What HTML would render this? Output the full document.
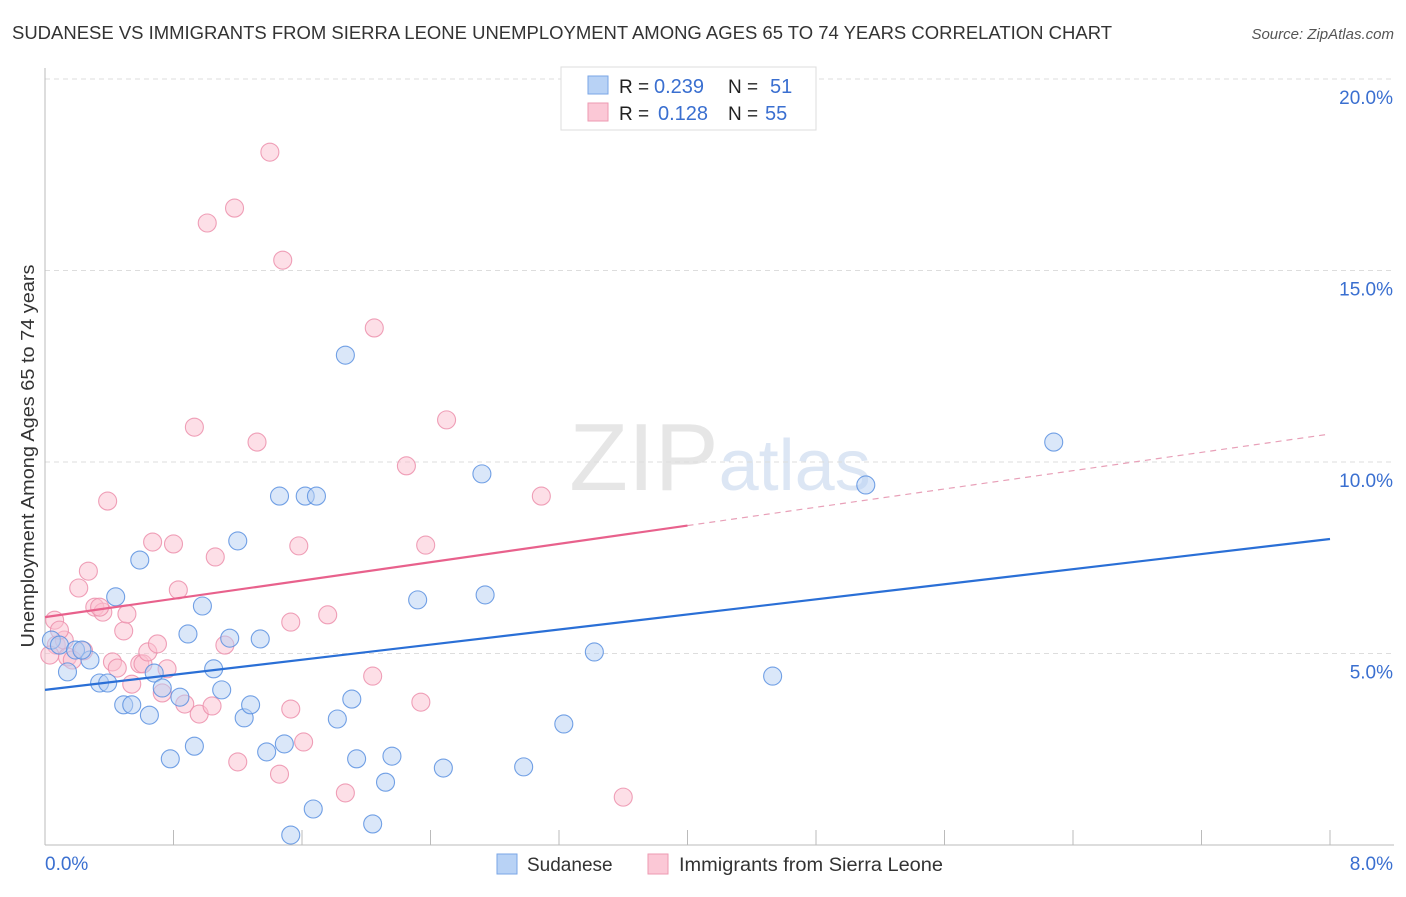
<!DOCTYPE html>
<html><head><meta charset="utf-8"><style>
body{margin:0;background:#fff;font-family:"Liberation Sans",sans-serif;}
svg text{font-family:"Liberation Sans",sans-serif;}
</style></head><body>
<svg id="chart" width="1406" height="892" xmlns="http://www.w3.org/2000/svg">
<text x="12" y="39" font-size="18" fill="#333" textLength="1100" lengthAdjust="spacingAndGlyphs">SUDANESE VS IMMIGRANTS FROM SIERRA LEONE UNEMPLOYMENT AMONG AGES 65 TO 74 YEARS CORRELATION CHART</text>
<text x="1394" y="39" font-size="15" fill="#555" font-style="italic" text-anchor="end">Source: ZipAtlas.com</text>
<text x="720" y="490" font-size="96" text-anchor="middle" fill="#e6e6e6" font-family="Liberation Serif">ZIP<tspan fill="#dce6f4" font-family="Liberation Sans" font-size="72">atlas</tspan></text>
<g id="grid"></g>
<g id="axes"></g>
<g id="marks"></g>
<text transform="translate(34,456) rotate(-90)" font-size="18" fill="#333" text-anchor="middle" textLength="383" lengthAdjust="spacingAndGlyphs">Unemployment Among Ages 65 to 74 years</text>
<g>
<rect x="561" y="67" width="255" height="63" fill="#fff" stroke="#ddd"/>
<rect x="588" y="76" width="20" height="18" fill="#b8d2f5" stroke="#7aa6e6"/>
<rect x="588" y="103" width="20" height="18" fill="#fbc8d6" stroke="#ee9ab2"/>
<text x="619" y="93" font-size="19" fill="#222">R =</text>
<text x="654" y="93" font-size="20" fill="#3a6fd0">0.239</text>
<text x="728" y="93" font-size="19" fill="#222">N =</text>
<text x="770" y="93" font-size="20" fill="#3a6fd0">51</text>
<text x="619" y="120" font-size="19" fill="#222">R =</text>
<text x="658" y="120" font-size="20" fill="#3a6fd0">0.128</text>
<text x="728" y="120" font-size="19" fill="#222">N =</text>
<text x="765" y="120" font-size="20" fill="#3a6fd0">55</text>
</g>
<g>
<rect x="497" y="854" width="20" height="20" fill="#b8d2f5" stroke="#7aa6e6"/>
<text x="527" y="871" font-size="19" fill="#333">Sudanese</text>
<rect x="648" y="854" width="20" height="20" fill="#fbc8d6" stroke="#ee9ab2"/>
<text x="679" y="871" font-size="19" fill="#333" textLength="264" lengthAdjust="spacingAndGlyphs">Immigrants from Sierra Leone</text>
</g>
</svg>
<script>
const xTicks=[0,8];
const yTicks=[5,10,15,20];
const blueX=[0.04,0.09,0.14,0.19,0.28,0.23,0.34,0.39,0.44,0.49,0.54,0.59,0.65,0.68,0.73,0.78,0.84,0.89,0.93,0.98,1.05,1.10,1.15,1.20,1.24,1.28,1.34,1.38,1.46,1.49,1.53,1.62,1.67,1.69,1.82,1.87,1.91,1.94,2.04,2.12,2.16,2.32,2.48,2.72,2.74,2.98,3.23,3.42,4.53,5.11,6.28];
const blueY=[5.35,5.22,4.52,5.09,4.83,5.09,4.23,4.23,6.48,3.66,3.66,7.44,3.39,4.49,4.10,2.25,3.86,5.51,2.58,6.24,4.60,4.05,5.40,7.94,3.32,3.66,5.38,2.43,9.11,2.64,0.26,9.11,0.94,9.11,3.29,12.79,3.81,2.25,0.55,1.64,2.32,6.40,2.01,9.69,6.53,2.04,3.16,5.04,4.41,9.40,10.52];
const pinkX=[0.06,0.07,0.12,0.14,0.21,0.24,0.27,0.31,0.36,0.39,0.42,0.45,0.49,0.51,0.54,0.59,0.61,0.64,0.67,0.70,0.73,0.76,0.80,0.83,0.87,0.93,0.96,1.01,1.04,1.06,1.12,1.18,1.20,1.32,1.40,1.46,1.48,1.53,1.53,1.58,1.61,1.76,1.87,2.04,2.05,2.25,2.34,2.37,2.50,3.09,3.60,0.03,0.09,0.17,0.34];
const pinkY=[5.87,5.22,5.35,4.91,6.71,5.07,7.15,6.21,6.08,8.98,4.78,4.62,5.59,6.03,4.20,4.73,4.73,5.04,7.91,5.25,3.97,4.60,7.86,6.66,3.68,10.91,3.42,16.24,3.63,7.52,5.22,16.63,2.17,10.52,18.09,1.85,15.27,3.55,5.82,7.81,2.69,6.01,1.36,4.41,13.50,9.90,3.73,7.83,11.10,9.11,1.25,4.96,5.61,4.83,6.21];
const blueTrend=[4.05,7.99];
const pinkTrend=[5.95,10.73];
const pinkSolidEnd=4.0;

const NS="http://www.w3.org/2000/svg";
const X=v=>45+v/8*1285;
const Y=v=>845-v/20*766;
function mk(t,a,p){const e=document.createElementNS(NS,t);for(const k in a)e.setAttribute(k,a[k]);p.appendChild(e);return e;}
const grid=document.getElementById('grid'),axes=document.getElementById('axes'),marks=document.getElementById('marks');
yTicks.forEach(t=>{
 const l=mk('line',{x1:45,x2:1394,y1:Y(t),y2:Y(t),stroke:'#ddd','stroke-dasharray':'5,4'},grid);
 
 
 const tx=mk('text',{x:1393,y:Y(t)+25,'font-size':19,fill:'#3a6fd0','text-anchor':'end'},axes);
 tx.textContent=t.toFixed(1)+'%';
 
 
});
const la=mk('line',{x1:45,x2:45,y1:68,y2:845,stroke:'#bbb'},axes);


const lb=mk('line',{x1:45,x2:1394,y1:845,y2:845,stroke:'#bbb'},axes);


for(let i=0;i<=10;i++){
 const v=i*0.8;
 const tk=mk('line',{x1:X(v),x2:X(v),y1:830,y2:845,stroke:'#bbb'},axes);
 
 
}
xTicks.forEach((t,i)=>{
 const tx=mk('text',{x:i==0?45:1393,y:870,'font-size':19,fill:'#3a6fd0','text-anchor':i==0?'start':'end'},axes);
 tx.textContent=t.toFixed(1)+'%';
 
 
});
function dots(xs,ys,fill,stroke,name){
 xs.forEach((x,i)=>{
  const c=mk('circle',{cx:X(x),cy:Y(ys[i]),r:9,fill:fill,'fill-opacity':0.5,stroke:stroke,'stroke-width':1.1,'stroke-opacity':0.85},marks);
  
  
 });
}
dots(pinkX,pinkY,'#fbc0d0','#ec8fab','sierra-leone-point');
dots(blueX,blueY,'#b5cff3','#5a90e0','sudanese-point');
const bt=mk('line',{x1:X(0),y1:Y(blueTrend[0]),x2:X(8),y2:Y(blueTrend[1]),stroke:'#2a6fd6','stroke-width':2.2},marks);


const pm=pinkTrend[0]+(pinkTrend[1]-pinkTrend[0])*pinkSolidEnd/8;
const pt=mk('line',{x1:X(0),y1:Y(pinkTrend[0]),x2:X(pinkSolidEnd),y2:Y(pm),stroke:'#e8618c','stroke-width':2.2},marks);


const pd=mk('line',{x1:X(pinkSolidEnd),y1:Y(pm),x2:X(8),y2:Y(pinkTrend[1]),stroke:'#e8a0b8','stroke-width':1.2,'stroke-dasharray':'6,5'},marks);


</script>
</body></html>
